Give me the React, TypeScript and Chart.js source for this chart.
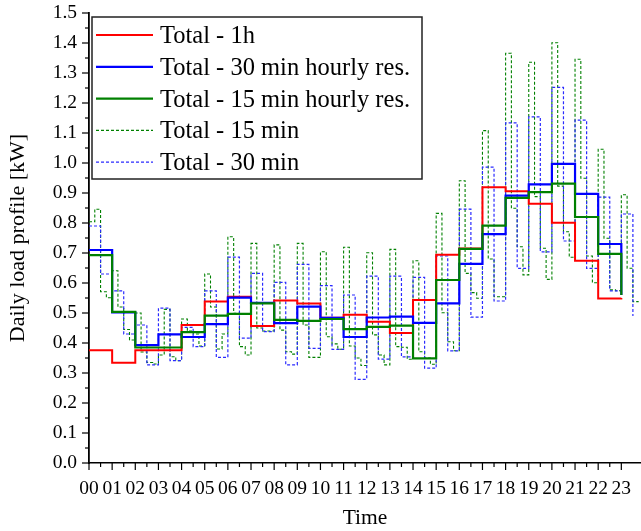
import React, { useEffect, useRef } from 'react';
import { Chart, registerables } from 'chart.js';

Chart.register(...registerables);

// ---------- data ----------
const hourLabels = ['00', '01', '02', '03', '04', '05', '06', '07', '08', '09', '10', '11',
  '12', '13', '14', '15', '16', '17', '18', '19', '20', '21', '22', '23'];

const legendLabels = [
  'Total - 1h',
  'Total - 30 min hourly res.',
  'Total - 15 min hourly res.',
  'Total - 15 min',
  'Total - 30 min',
];

// hourly series (value held from hour i to hour i+1)
const total1h = [0.376, 0.334, 0.376, 0.376, 0.46, 0.538, 0.554, 0.457, 0.542, 0.532, 0.484, 0.494,
  0.471, 0.433, 0.543, 0.694, 0.715, 0.919, 0.906, 0.864, 0.801, 0.674, 0.548, 0.55];
const total30Hourly = [0.71, 0.502, 0.393, 0.429, 0.42, 0.463, 0.551, 0.534, 0.466, 0.521, 0.484, 0.42,
  0.485, 0.488, 0.467, 0.532, 0.664, 0.763, 0.891, 0.929, 0.997, 0.897, 0.73, 0.56];
const total15Hourly = [0.693, 0.504, 0.385, 0.385, 0.436, 0.491, 0.497, 0.532, 0.477, 0.474, 0.48, 0.446,
  0.454, 0.458, 0.349, 0.61, 0.714, 0.791, 0.884, 0.903, 0.931, 0.82, 0.697, 0.56];

// 15-minute series
const total15 = [
  0.804, 0.846, 0.571, 0.551, // 00
  0.641, 0.52, 0.445, 0.41, // 01
  0.50, 0.37, 0.335, 0.33, // 02
  0.36, 0.512, 0.354, 0.341, // 03
  0.48, 0.44, 0.43, 0.39, // 04
  0.63, 0.52, 0.38, 0.43, // 05
  0.754, 0.499, 0.388, 0.36, // 06
  0.732, 0.45, 0.44, 0.44, // 07
  0.727, 0.443, 0.371, 0.363, // 08
  0.732, 0.46, 0.352, 0.352, // 09
  0.704, 0.421, 0.397, 0.379, // 10
  0.719, 0.39, 0.35, 0.325, // 11
  0.701, 0.427, 0.36, 0.327, // 12
  0.712, 0.388, 0.386, 0.346, // 13
  0.674, 0.371, 0.35, 0.329, // 14
  0.832, 0.501, 0.404, 0.374, // 15
  0.941, 0.632, 0.568, 0.549, // 16
  1.108, 0.68, 0.554, 0.554, // 17
  1.366, 0.849, 0.721, 0.627, // 18
  1.336, 0.888, 0.716, 0.612, // 19
  1.401, 0.923, 0.771, 0.686, // 20
  1.346, 0.949, 0.69, 0.601, // 21
  1.046, 0.749, 0.577, 0.574, // 22
  0.894, 0.649, 0.538, 0.538, // 23
];

// 30-minute series
const total30 = [
  0.79, 0.63, 0.574, 0.43, 0.46, 0.327, 0.516, 0.341,
  0.452, 0.388, 0.574, 0.352, 0.686, 0.416, 0.632, 0.438,
  0.602, 0.327, 0.662, 0.382, 0.591, 0.379, 0.56, 0.279,
  0.623, 0.346, 0.623, 0.354, 0.619, 0.316, 0.69, 0.374,
  0.846, 0.486, 0.986, 0.54, 1.134, 0.649, 1.154, 0.704,
  1.252, 0.74, 1.143, 0.649, 0.886, 0.574, 0.83, 0.49,
];

// ---------- layout / style constants ----------
const W = 641;
const H = 531;
const PLOT_LEFT = 89;
const PLOT_TOP = 13;
const PLOT_BOTTOM = 463;
const X_MAX = 23.85;
const Y_MAX = 1.5;
const FONT_FAMILY = "'Liberation Serif', 'Times New Roman', serif";
const RED = '#ff0000';
const BLUE = '#0000ff';
const GREEN = '#008000';
const DASH_BLUE = '#2a2aff';

const toPoints = (values: number[], hoursPerPoint: number) =>
  values.map((v, i) => ({ x: i * hoursPerPoint, y: v }));

const legendStyles = [
  { color: RED, width: 2, dash: [] as number[] },
  { color: BLUE, width: 2.2, dash: [] as number[] },
  { color: GREEN, width: 2.2, dash: [] as number[] },
  { color: GREEN, width: 1.1, dash: [3, 2] },
  { color: DASH_BLUE, width: 1.3, dash: [3, 2] },
];

const decorPlugin = {
  id: 'decor',
  afterDraw(chart: any) {
    const { ctx, chartArea: ca, scales } = chart;
    const xs = scales.x;
    const ys = scales.y;
    ctx.save();
    ctx.strokeStyle = '#000';
    ctx.lineWidth = 1.2;
    ctx.setLineDash([]);
    // x tick marks (outward)
    xs.ticks.forEach((t: any) => {
      const major = Math.abs(t.value - Math.round(t.value)) < 1e-6;
      const px = xs.getPixelForValue(t.value);
      ctx.beginPath();
      ctx.moveTo(px, ca.bottom);
      ctx.lineTo(px, ca.bottom + (major ? 7 : 4));
      ctx.stroke();
    });
    // y tick marks (outward)
    ys.ticks.forEach((t: any) => {
      const major = Math.abs(t.value * 10 - Math.round(t.value * 10)) < 1e-6;
      const py = ys.getPixelForValue(t.value);
      ctx.beginPath();
      ctx.moveTo(ca.left, py);
      ctx.lineTo(ca.left - (major ? 7 : 4), py);
      ctx.stroke();
    });

    // legend box
    const bx = 92;
    const by = 17;
    const bw = 330;
    const bh = 162;
    ctx.fillStyle = '#fff';
    ctx.fillRect(bx, by, bw, bh);
    ctx.strokeStyle = '#222';
    ctx.lineWidth = 1.5;
    ctx.strokeRect(bx, by, bw, bh);
    ctx.font = `24.5px ${FONT_FAMILY}`;
    ctx.textBaseline = 'alphabetic';
    ctx.textAlign = 'left';
    legendLabels.forEach((label, i) => {
      const st = legendStyles[i];
      const ly = by + 18 + i * 31.8;
      ctx.strokeStyle = st.color;
      ctx.lineWidth = st.width;
      ctx.setLineDash(st.dash);
      ctx.beginPath();
      ctx.moveTo(96, ly);
      ctx.lineTo(153, ly);
      ctx.stroke();
      ctx.setLineDash([]);
      ctx.fillStyle = '#000';
      ctx.fillText(label, 160, ly + 8);
    });
    ctx.restore();
  },
};

export default function App() {
  const canvasRef = useRef<HTMLCanvasElement | null>(null);

  useEffect(() => {
    const canvas = canvasRef.current;
    if (!canvas) return;
    const tickFont = { family: FONT_FAMILY, size: 19.5 };
    const xTitleFont = { family: FONT_FAMILY, size: 21.5 };
    const yTitleFont = { family: FONT_FAMILY, size: 22 };

    const chart = new Chart(canvas, {
      type: 'line',
      data: {
        datasets: [
          {
            label: legendLabels[2],
            data: toPoints(total15Hourly, 1),
            borderColor: GREEN,
            borderWidth: 2.2,
            stepped: 'before',
            pointRadius: 0,
            fill: false,
            order: 1,
          },
          {
            label: legendLabels[1],
            data: toPoints(total30Hourly, 1),
            borderColor: BLUE,
            borderWidth: 2.2,
            stepped: 'before',
            pointRadius: 0,
            fill: false,
            order: 2,
          },
          {
            label: legendLabels[0],
            data: toPoints(total1h, 1),
            borderColor: RED,
            borderWidth: 2,
            stepped: 'before',
            pointRadius: 0,
            fill: false,
            order: 3,
          },
          {
            label: legendLabels[4],
            data: toPoints(total30, 0.5),
            borderColor: DASH_BLUE,
            borderWidth: 1.2,
            borderDash: [3, 2],
            stepped: 'before',
            pointRadius: 0,
            fill: false,
            order: 4,
          },
          {
            label: legendLabels[3],
            data: toPoints(total15, 0.25),
            borderColor: GREEN,
            borderWidth: 1.1,
            borderDash: [3, 2],
            stepped: 'before',
            pointRadius: 0,
            fill: false,
            order: 5,
          },
        ],
      },
      options: {
        animation: false,
        responsive: false,
        maintainAspectRatio: false,
        parsing: false as any,
        layout: { padding: { top: PLOT_TOP, right: 0, left: 0, bottom: 0 } },
        plugins: {
          legend: { display: false },
          tooltip: { enabled: false },
          title: { display: false },
        },
        scales: {
          x: {
            type: 'linear',
            min: 0,
            max: X_MAX,
            grid: { display: false, drawTicks: false },
            border: { display: true, color: '#000', width: 1.6 },
            ticks: {
              stepSize: 0.5,
              autoSkip: false,
              maxRotation: 0,
              minRotation: 0,
              padding: 14,
              color: '#000',
              font: tickFont,
              callback: (v: any) => {
                const n = Number(v);
                return Math.abs(n - Math.round(n)) < 1e-6 ? hourLabels[Math.round(n)] ?? '' : '';
              },
            },
            afterBuildTicks: (s: any) => {
              s.ticks = s.ticks.filter(
                (t: any) => Math.abs(t.value * 2 - Math.round(t.value * 2)) < 1e-6 && t.value <= 23.5 + 1e-6,
              );
            },
            afterFit: (s: any) => {
              s.height = H - PLOT_BOTTOM;
              s.paddingLeft = 0;
              s.paddingRight = 0;
            },
            title: {
              display: true,
              text: 'Time',
              color: '#000',
              font: xTitleFont,
              padding: { top: 0, bottom: 0 },
            },
          },
          y: {
            type: 'linear',
            min: 0,
            max: Y_MAX,
            grid: { display: false, drawTicks: false },
            border: { display: true, color: '#000', width: 1.8 },
            ticks: {
              stepSize: 0.05,
              autoSkip: false,
              padding: 12,
              color: '#000',
              font: tickFont,
              callback: (v: any) => {
                const n = Number(v);
                return Math.abs(n * 10 - Math.round(n * 10)) < 1e-6 ? n.toFixed(1) : '';
              },
            },
            afterFit: (s: any) => {
              s.width = PLOT_LEFT;
              s.paddingTop = 0;
              s.paddingBottom = 0;
            },
            title: {
              display: true,
              text: 'Daily load profile [kW]',
              color: '#000',
              font: yTitleFont,
              padding: { top: 5, bottom: 0 },
            },
          },
        },
      },
      plugins: [decorPlugin],
    } as any);

    return () => {
      chart.destroy();
    };
  }, []);

  return (
    <div style={{ position: 'fixed', left: 0, top: 0, width: W, height: H, background: '#fff' }}>
      <canvas ref={canvasRef} width={W} height={H} style={{ width: W, height: H, display: 'block' }} />
    </div>
  );
}
